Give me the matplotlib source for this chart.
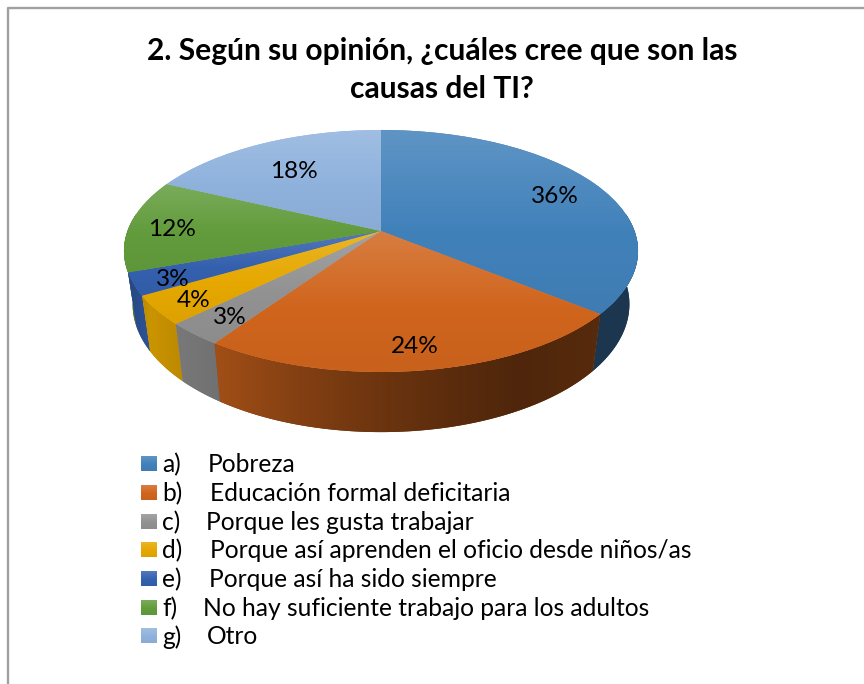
import numpy as np
import matplotlib
matplotlib.use("Agg")
import matplotlib.pyplot as plt
from matplotlib.patches import Polygon
from matplotlib.transforms import Transform

# ---- data ----
title_lines = ["2. Según su opinión, ¿cuáles cree que son las", "causas del TI?"]
option_tags = ["a)", "b)", "c)", "d)", "e)", "f)", "g)"]
option_names = ["Pobreza", "Educación formal deficitaria", "Porque les gusta trabajar",
                "Porque así aprenden el oficio desde niños/as", "Porque así ha sido siempre",
                "No hay suficiente trabajo para los adultos", "Otro"]
percent_values = [35.9, 23.7, 3.1, 3.9, 3.0, 12.4, 18.0]

# ---- style ----
slice_colors = ["#4181BA", "#D0651D", "#929292", "#E6A800", "#3460AE", "#629C3C", "#8FB2DD"]
label_radii = [0.80, 0.83, 0.83, 0.85, 0.85, 0.83, 0.70]
name_x = [208, 210, 206, 210, 209, 203, 207]
plt.rcParams["font.family"] = ["Lato", "DejaVu Sans"]

CX, CY, K = 381.0, 231.0, 0.165
TOP_A, TOP_B = 117.7, 253.5
BASE_Y, BASE_A, BASE_B = 283.0, 124.5, 245.0


class Tilt(Transform):
    """Perspective view of the unit pie, output in figure pixels."""
    input_dims = output_dims = 2
    is_separable = False
    has_inverse = False

    def __init__(self, yc, a, b):
        super().__init__()
        self.yc, self.a, self.b = yc, a, b

    def transform_non_affine(self, values):
        p = np.asarray(values, dtype=float)
        w = 1 + K * p[:, 1]
        return np.column_stack([CX + self.b * p[:, 0] / w, self.yc - self.a * p[:, 1] / w])


top_view = Tilt(CY, TOP_A, TOP_B)
base_view = Tilt(BASE_Y, BASE_A, BASE_B)

fig = plt.figure(figsize=(8.64, 6.84), dpi=100, facecolor="white")
ax = fig.add_axes([0, 0, 1, 1])

wedges, _ = ax.pie(percent_values, colors=slice_colors, startangle=90, counterclock=False,
                   radius=1, center=(0, 0), normalize=True, wedgeprops={"linewidth": 0})
ax.set_aspect("auto")
ax.set_xlim(0, 864)
ax.set_ylim(684, 0)
ax.axis("off")

# border of the chart area (right and bottom are cropped)
ax.plot([7.5, 7.5, 864], [684, 7.5, 7.5], color="#A0A0A0", lw=1.7, zorder=1, solid_capstyle="butt")


def wall_shade(x):
    return np.interp(x, [125, 150, 180, 213, 300, 381, 450, 520, 600, 640],
                     [0.72, 0.88, 0.82, 0.78, 0.63, 0.52, 0.44, 0.38, 0.42, 0.42])


def rgb(c):
    return np.array(matplotlib.colors.to_rgb(c))


def top_gradient(c, n=64):
    t = np.linspace(0, 1, n)
    light = np.clip(1 - t / 0.55, 0, 1) * 0.16
    dark = np.clip((t - 0.55) / 0.45, 0, 1) * 0.04
    return np.array([(rgb(c) * (1 - l) + l) * (1 - d) for l, d in zip(light, dark)])


# side walls
fractions = np.cumsum([0] + percent_values) / sum(percent_values)
walls = []
for i, col in enumerate(slice_colors):
    ang = np.linspace(fractions[i], fractions[i + 1], 120) * 2 * np.pi
    ang = ang[np.cos(ang) < 0.15]
    if len(ang) < 2:
        continue
    unit = np.column_stack([np.sin(ang), np.cos(ang)])
    poly = np.vstack([top_view.transform(unit), base_view.transform(unit)[::-1]])
    walls.append((poly[:, 1].max(), poly, col))

for zo, (_, poly, col) in enumerate(sorted(walls, key=lambda w: w[0])):
    xs = np.linspace(120, 645, 264)
    arr = np.array([[rgb(col) * wall_shade(x) for x in xs]])
    mean_col = rgb(col) * wall_shade(poly[:, 0].mean())
    patch = Polygon(poly, closed=True, fc=mean_col, ec="none", zorder=2 + zo * 0.01)
    ax.add_patch(patch)
    im = ax.imshow(arr, extent=(120, 645, 440, 100), aspect="auto", interpolation="bilinear",
                   zorder=2 + zo * 0.01 + 0.005)
    im.set_clip_path(patch)

# top faces
for w, col in zip(wedges, slice_colors):
    w.set_transform(top_view + ax.transData)
    w.set_zorder(3)
    box = top_view.transform_path(w.get_path()).get_extents()
    arr = top_gradient(col)[:, None, :]
    im = ax.imshow(arr, extent=(box.x0 - 1, box.x1 + 1, box.y1 + 1, box.y0 - 1), aspect="auto",
                   interpolation="bilinear", zorder=3.1)
    im.set_clip_path(w)

ax.set_xlim(0, 864)
ax.set_ylim(684, 0)

# percent labels
mid = (fractions[:-1] + fractions[1:]) / 2 * 2 * np.pi
for pct, a, r in zip(percent_values, mid, label_radii):
    x, y = top_view.transform(np.array([[r * np.sin(a), r * np.cos(a)]]))[0]
    ax.text(x, y + 3.5, f"{pct:.0f}%", ha="center", va="center", fontsize=17.6, color="black", zorder=5)

# title
for line, y in zip(title_lines, [51, 89]):
    ax.text(442, y, line, ha="center", va="center", fontsize=21.6, fontweight="bold", color="black", zorder=5)

# legend
row_y = np.linspace(464, 636, len(option_names))
for tag, name, nx, col, y in zip(option_tags, option_names, name_x, slice_colors, row_y):
    arr = top_gradient(col)[:, None, :]
    ax.imshow(arr, extent=(141, 157, y + 7.5, y - 7.5), aspect="auto", interpolation="bilinear", zorder=4)
    ax.text(162, y + 1, tag, ha="left", va="center", fontsize=17.7, color="black", zorder=5)
    ax.text(nx, y + 1, name, ha="left", va="center", fontsize=17.7, color="black", zorder=5)

ax.set_xlim(0, 864)
ax.set_ylim(684, 0)
fig.savefig("out.png", dpi=100, facecolor="white")
